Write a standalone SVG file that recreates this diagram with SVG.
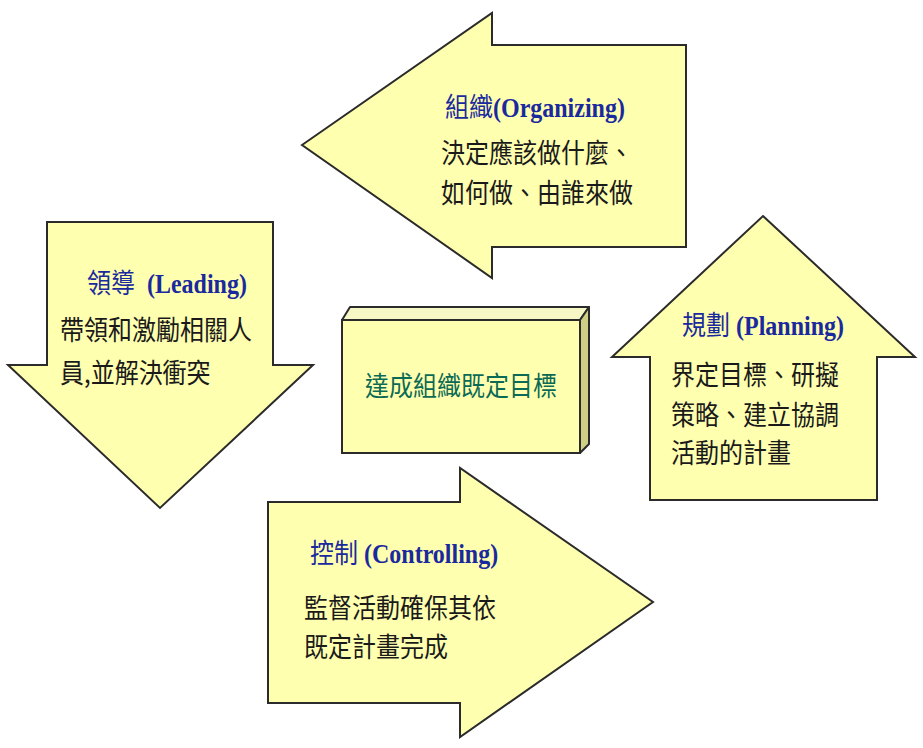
<svg xmlns="http://www.w3.org/2000/svg" width="923" height="748" viewBox="0 0 923 748">
<style>
.shape{fill:#FFFFB0;stroke:#2b2b2b;stroke-width:2;stroke-linejoin:miter}
.title{font-family:"Liberation Serif","Noto Sans CJK TC",serif;font-weight:bold;font-size:24px;fill:#1a2a9e}
.cjk{font-family:"Noto Sans CJK TC","Noto Sans CJK SC",sans-serif;font-weight:normal}
.body{font-family:"Noto Sans CJK TC","Noto Sans CJK SC",sans-serif;font-size:24px;fill:#1a1a1a}
.goal{font-family:"Noto Sans CJK TC","Noto Sans CJK SC",sans-serif;font-size:24px;fill:#0b6a55}
</style>
<rect width="923" height="748" fill="#ffffff"/>
<g id="connectors"></g>
<g id="organizing">
<polygon class="shape" points="302,145 492,13 492,45 686,45 686,247 492,247 492,278"/>
<text class="title" transform="translate(445,117) scale(1,1.12)"><tspan class="cjk">組織</tspan>(Organizing)</text>
<text class="body" transform="translate(441,163) scale(1,1.12)">決定應該做什麼、</text>
<text class="body" transform="translate(441,203) scale(1,1.12)">如何做、由誰來做</text>
</g>
<g id="leading">
<polygon class="shape" points="47,222 273,222 273,365 313,365 160,508 8,365 47,365"/>
<text class="title" transform="translate(87,293) scale(1,1.12)" xml:space="preserve"><tspan class="cjk">領導</tspan>  (Leading)</text>
<text class="body" transform="translate(60,340) scale(1,1.12)">帶領和激勵相關人</text>
<text class="body" transform="translate(60,383) scale(1,1.12)">員,並解決衝突</text>
</g>
<g id="planning">
<polygon class="shape" points="763,216 915,357 877,357 877,500 650,500 650,357 612,357"/>
<text class="title" transform="translate(682,335) scale(1,1.12)"><tspan class="cjk">規劃</tspan> (Planning)</text>
<text class="body" transform="translate(671,385) scale(1,1.12)">界定目標、研擬</text>
<text class="body" transform="translate(671,425) scale(1,1.12)">策略、建立協調</text>
<text class="body" transform="translate(671,463) scale(1,1.12)">活動的計畫</text>
</g>
<g id="controlling">
<polygon class="shape" points="268,502 460,502 460,468 653,602 460,737 460,703 268,703"/>
<text class="title" transform="translate(310,563) scale(1,1.12)"><tspan class="cjk">控制</tspan> (Controlling)</text>
<text class="body" transform="translate(304,618) scale(1,1.12)">監督活動確保其依</text>
<text class="body" transform="translate(304,657) scale(1,1.12)">既定計畫完成</text>
</g>
<g id="goal">
<polygon points="342,320 350,307 589,307 580,320" fill="#F7F7C6" stroke="#2b2b2b" stroke-width="2" stroke-linejoin="round"/>
<polygon points="580,320 589,307 589,444 580,453" fill="#CFCF86" stroke="#2b2b2b" stroke-width="2" stroke-linejoin="round"/>
<rect class="shape" x="342" y="320" width="238" height="133"/>
<text class="goal" text-anchor="middle" transform="translate(461,396) scale(1,1.12)">達成組織既定目標</text>
</g>
</svg>
